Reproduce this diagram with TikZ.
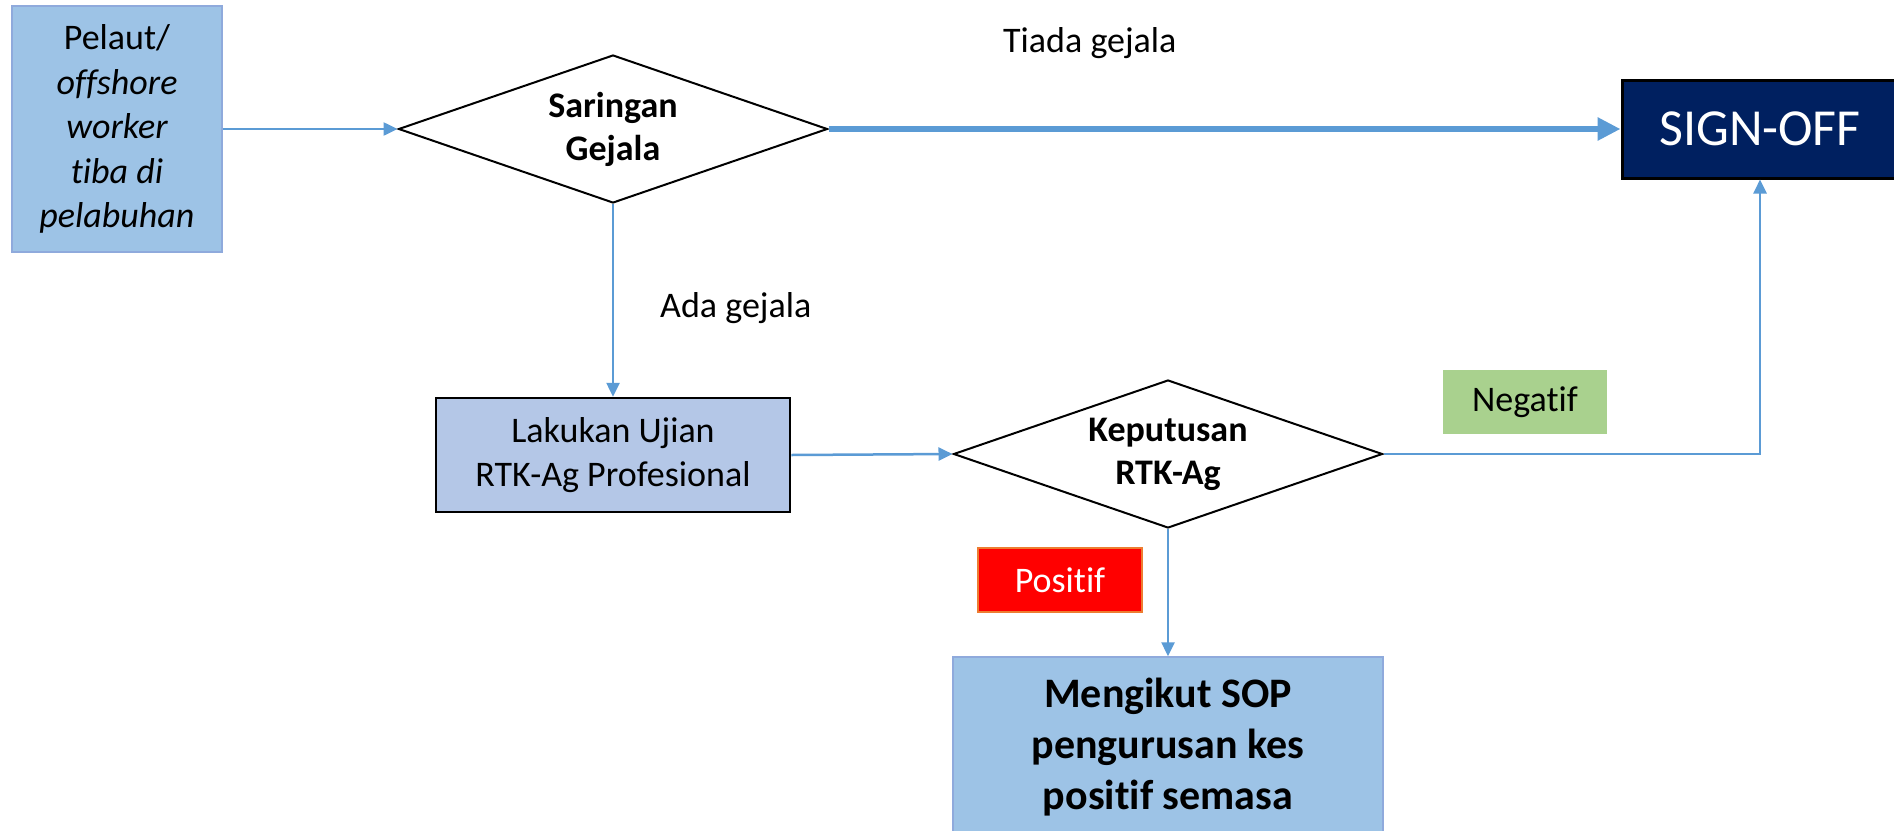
\documentclass[tikz,border=0pt]{standalone}
\usepackage{fontspec}
\setmainfont{Carlito}[Ligatures={NoCommon}]
\usetikzlibrary{shapes.geometric,arrows.meta}
\definecolor{lblue}{HTML}{9DC3E6}
\definecolor{lbluedraw}{HTML}{8FAADC}
\definecolor{lakfill}{HTML}{B4C7E7}
\definecolor{navy}{HTML}{002060}
\definecolor{arrblue}{HTML}{5B9BD5}
\definecolor{neggreen}{HTML}{A9D18E}
\definecolor{posorange}{HTML}{ED7D31}
\tikzset{
  txt/.style={font=\fontsize{36}{44.5}\selectfont, align=center},
  decision/.style={diamond, draw=black, line width=2pt, fill=white, inner sep=0pt,
    minimum width=429pt, minimum height=148pt, aspect=2.9,
    font=\bfseries\fontsize{36}{43}\selectfont, align=center},
  conn/.style={draw=arrblue, line width=2.5pt, -{Triangle[length=14pt,width=13pt]}},
  thickconn/.style={draw=arrblue, line width=6pt, -{Triangle[length=23pt,width=22pt]}},
  tag/.style={inner sep=0pt, minimum width=164pt, minimum height=64pt,
    font=\fontsize{36}{44}\selectfont}
}
\begin{document}
\begin{tikzpicture}[x=1pt,y=-1pt]
\useasboundingbox (0,0) rectangle (1894,830);
\clip (0,0) rectangle (1894,830);
\fill[white] (0,0) rectangle (1894,830);

\node[txt, draw=lbluedraw, fill=lblue, line width=1.5pt, minimum width=210pt, minimum height=246pt, inner sep=0pt]
  (pel) at (117,129) {Pelaut/\\\itshape offshore\\\itshape worker\\\itshape tiba di\\\itshape pelabuhan};

\node[decision] (d1) at (613,129) {Saringan\\Gejala};

\node[draw=black, line width=3pt, fill=navy, text=white, minimum width=276pt, minimum height=98pt, inner sep=0pt,
  font=\fontsize{52}{60}\selectfont] (sign) at (1760,129) {SIGN-OFF};

\node[txt, draw=black, line width=2.5pt, fill=lakfill, minimum width=354pt, minimum height=114pt, inner sep=0pt]
  (lak) at (613,455) {Lakukan Ujian\\RTK-Ag Profesional};

\node[decision] (d2) at (1168,454) {Keputusan\\RTK-Ag};

\node[tag, fill=neggreen] (neg) at (1525,402) {Negatif};
\node[tag, fill=red, draw=posorange, line width=1.5pt, text=white] (pos) at (1060,580) {Positif};

\node[draw=lbluedraw, fill=lblue, line width=1.5pt, minimum width=430pt, minimum height=180pt, inner sep=0pt,
  align=center, font=\bfseries\fontsize{42}{51}\selectfont]
  (sop) at (1168,747) {Mengikut SOP\\pengurusan kes\\positif semasa};

\node[txt, anchor=base west, inner sep=0pt] (tiada) at (1003,52) {Tiada gejala};
\node[txt, anchor=base west, inner sep=0pt] (ada) at (660,317) {Ada gejala};

\draw[conn] (pel.east) -- (d1.west);
\draw[thickconn] (d1.east) -- (sign.west);
\draw[conn] (d1.south) -- (lak.north);
\draw[conn] (lak.east) -- (d2.west);
\draw[conn] (d2.east) -| (sign.south);
\draw[conn] (d2.south) -- (sop.north);
\end{tikzpicture}
\end{document}
